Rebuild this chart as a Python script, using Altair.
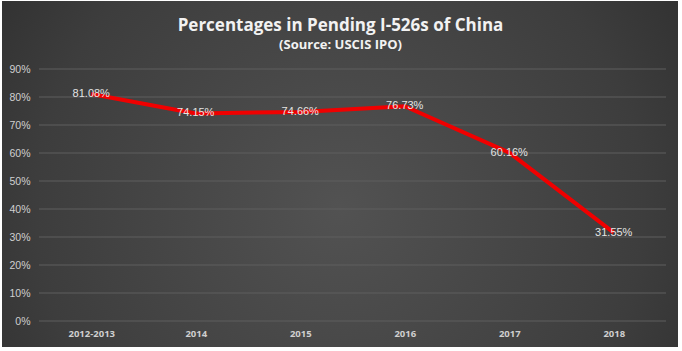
import altair as alt
import pandas as pd

years = ["2012-2013", "2014", "2015", "2016", "2017", "2018"]
values = [81.08, 74.15, 74.66, 76.73, 60.16, 31.55]
labels = ["81.08%", "74.15%", "74.66%", "76.73%", "60.16%", "31.55%"]
y_ticks = [0, 10, 20, 30, 40, 50, 60, 70, 80, 90]
title_text = "Percentages in Pending I-526s of China"
subtitle_text = "(Source: USCIS IPO)"

df = pd.DataFrame({"year": years, "value": values, "label": labels})
grid_df = pd.DataFrame({"value": y_ticks})

W, H = 627, 252

y_axis = alt.Axis(values=y_ticks, labelExpr="datum.value + '%'",
                  labelFont="Liberation Sans", labelFontSize=10.5,
                  labelColor="#d0d0d0", labelPadding=9, labelOverlap=False,
                  domain=False, ticks=False, grid=False, zindex=1)
y_scale = alt.Scale(domain=[0, 90], nice=False)

x_enc = alt.X("year:N", sort=years, title=None,
              scale=alt.Scale(paddingInner=0, paddingOuter=0.5),
              axis=alt.Axis(labelAngle=0, labelFont="Open Sans", labelFontWeight="bold",
                            labelFontSize=9.5, labelColor="#cfcfcf", labelPadding=7,
                            domain=False, ticks=False, grid=False, zindex=1))
y_enc = alt.Y("value:Q", title=None, scale=y_scale, axis=y_axis)

bg = alt.Chart(alt.Data(values=[{"a": 1}])).mark_rect(
    color=alt.Gradient(
        gradient="radial", x1=0.5, y1=0.55, x2=0.5, y2=0.55, r1=0, r2=0.75,
        stops=[alt.GradientStop(color="#525252", offset=0),
               alt.GradientStop(color="#3d3d3d", offset=0.6),
               alt.GradientStop(color="#262626", offset=1)])
).encode(x=alt.value(-37), x2=alt.value(W + 12), y=alt.value(-68), y2=alt.value(H + 26))

titles = alt.Chart(alt.Data(values=[{"t": title_text, "s": subtitle_text}]))
title_mark = titles.mark_text(font="Open Sans", fontSize=17, fontWeight="bold",
                              color="#f2f2f2", baseline="alphabetic", align="center").encode(
    text="t:N", x=alt.value(W / 2 - 12), y=alt.value(-38))
subtitle_mark = titles.mark_text(font="Open Sans", fontSize=13, fontWeight="bold",
                                 color="#f2f2f2", baseline="alphabetic", align="center").encode(
    text="s:N", x=alt.value(W / 2 - 12), y=alt.value(-20))

grid = alt.Chart(grid_df).mark_rule(color="#5e5e5e", strokeWidth=1).encode(
    y=alt.Y("value:Q", title=None, scale=y_scale, axis=y_axis),
    x=alt.value(0), x2=alt.value(W))

base = alt.Chart(df).encode(x=x_enc, y=y_enc)
line = base.mark_line(color="#f00000", strokeWidth=4)
text = base.mark_text(font="Liberation Sans", fontSize=11, color="#e4e4e4").encode(text="label:N")

chart = alt.layer(bg, title_mark, subtitle_mark, grid, line, text).properties(
    width=W, height=H,
    autosize=alt.AutoSizeParams(type="none"),
    padding={"left": 39, "top": 69, "right": 16, "bottom": 30},
    background="#ffffff",
).configure_view(stroke=None)

chart.save("out.html", embed_options={"renderer": "svg", "actions": False})
